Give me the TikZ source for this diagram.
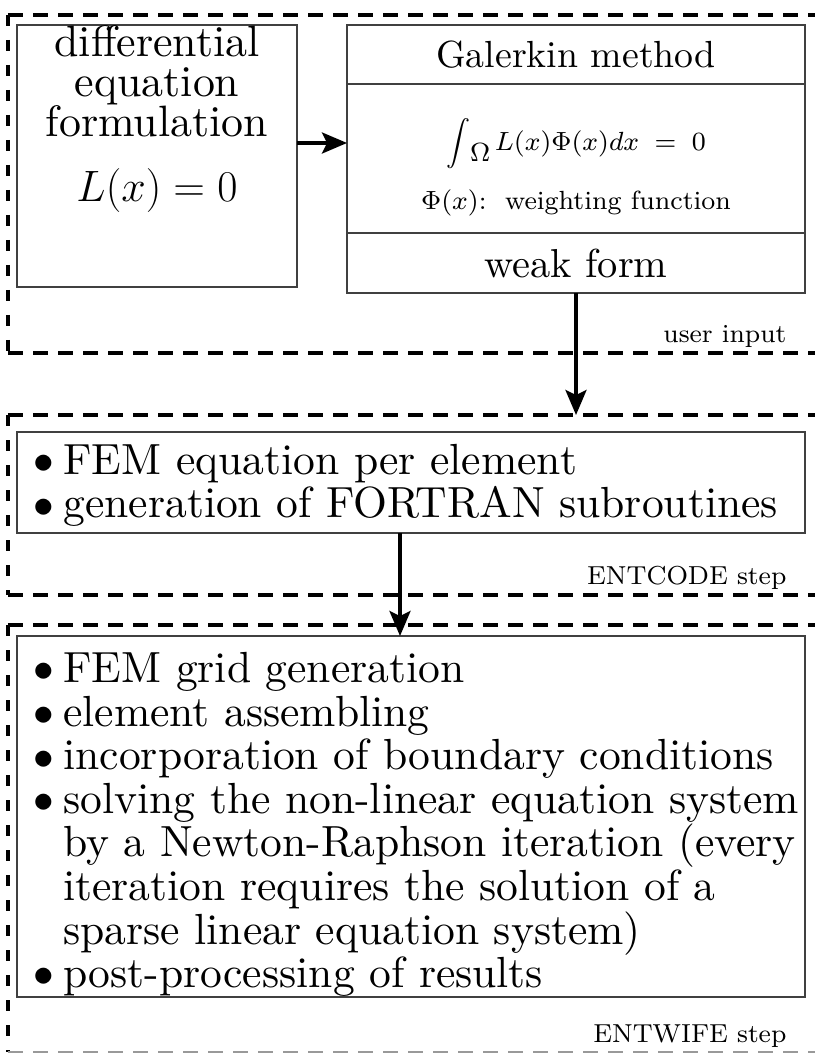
\RequirePackage{fix-cm}
\documentclass[tikz,border=0pt]{standalone}
\usepackage{amsmath}
\usepackage{graphicx}
\usepackage{fontspec}
\setmainfont{lmroman10-regular.otf}[ItalicFont=lmroman10-italic.otf, BoldFont=lmroman10-bold.otf]
\newfontfamily\smallrm{lmroman8-regular.otf}
\usepackage{tikz}
\usetikzlibrary{positioning}
\usetikzlibrary{arrows.meta}

\newcommand{\itm}{\makebox[0.68em][l]{\raisebox{0.4pt}{\fontsize{23.5}{23.5}\selectfont$\bullet$}}}
\newcommand{\weakint}{\mathop{\vcenter{\hbox{\scalebox{0.86}{$\displaystyle\int$}}}}\nolimits}

\tikzset{
  box/.style={draw=black!75, line width=0.6pt, inner sep=0pt, outer sep=0pt},
  frame/.style={inner sep=0pt, outer sep=0pt},
  hdash/.style={line width=2pt, dash pattern=on 0.3cm off 0.2cm},
  vdash/.style={line width=2pt, dash pattern=on 0.22cm off 0.28cm},
  arr/.style={line width=2pt, -{Stealth[length=0.5cm,width=0.42cm,inset=0.1cm]}},
  big/.style={font=\fontsize{24.8}{24.8}\selectfont},
  small/.style={font=\smallrm\fontsize{8}{10}\selectfont, inner sep=0pt, scale=1.85, transform shape},
}

\begin{document}
\begin{tikzpicture}
        \useasboundingbox (0,0) rectangle (16.28,-21.14);

        % dashed frames of the three steps
        \node (userframe)[frame, minimum width=16.54cm, minimum height=6.76cm] at (8.43,-3.68) {};
        \node (codeframe)[frame, minimum width=16.54cm, minimum height=3.60cm] at (8.43,-10.10) {};
        \node (wifeframe)[frame, minimum width=16.54cm, minimum height=8.54cm] at (8.43,-16.77) {};
        \foreach \f in {userframe, codeframe, wifeframe} {
            \draw [hdash] (\f.north west) -- (\f.north east);
            \draw [vdash] (\f.north west) -- (\f.south west);
        }
        \draw [hdash] (userframe.south west) -- (userframe.south east);
        \draw [hdash] (codeframe.south west) -- (codeframe.south east);
        \draw [hdash, black!40, line width=1.4pt] (wifeframe.south west) -- (wifeframe.south east);

        \node (userlbl)[small, anchor=base east] at (15.74,-6.86) {user input};
        \node (codelbl)[small, anchor=base east] at (15.74,-11.68) {ENTCODE step};
        \node (wifelbl)[small, anchor=base east] at (15.74,-20.84) {ENTWIFE step};

        % user input
        \node (diffeq)[box, minimum width=5.6cm, minimum height=5.24cm] at (3.14,-3.12) {};
        \node (diffeqtxt)[align=center, font=\fontsize{25}{22.8}\selectfont] at (3.14,-2.38)
              {differential\\equation\\formulation\\[0.5cm]$L(x)=0$};

        \node (galtop)[box, minimum width=9.16cm, minimum height=1.18cm, font=\fontsize{21.5}{24}\selectfont]
              at (11.52,-1.09) {Galerkin method};
        \node (galmid)[box, minimum width=9.16cm, minimum height=2.98cm, below=0pt of galtop] {};
        \node (galbot)[box, minimum width=9.16cm, minimum height=1.2cm, below=0pt of galmid,
              font=\fontsize{23}{26}\selectfont] {weak form};
        \node (galint)[font=\fontsize{8}{10}\selectfont, scale=1.87, transform shape, inner sep=0pt]
              at ([yshift=0.3cm]galmid.center)
              {$\weakint\!\raisebox{-0.45em}{$\Omega$}\,L(x)\Phi(x)dx \;=\; 0$};
        \node (galphi)[font=\smallrm\fontsize{8}{10}\selectfont, scale=1.87, transform shape, inner sep=0pt]
              at ([yshift=-0.88cm]galmid.center) {$\Phi(x)$:~~weighting function};

        % ENTCODE
        \node (entcode)[box, minimum width=15.76cm, minimum height=2.02cm] at (8.22,-9.65) {};
        \node (entcodetxt)[big, align=left, anchor=west, inner sep=0pt] at ([xshift=0.33cm, yshift=-0.06cm]entcode.west)
              {\itm FEM equation per element\\\itm generation of FORTRAN subroutines};

        % ENTWIFE
        \node (entwife)[box, minimum width=15.76cm, minimum height=7.22cm] at (8.22,-16.33) {};
        \node (entwifetxt)[big, align=left, anchor=west, inner sep=0pt] at ([xshift=0.33cm, yshift=-0.16cm]entwife.west)
              {\itm FEM grid generation\\
              \itm element assembling\\
              \itm incorporation of boundary conditions\\
              \itm solving the non-linear equation system\\
              \hspace*{0.68em}by a Newton-Raphson iteration (every\\
              \hspace*{0.68em}iteration requires the solution of a\\
              \hspace*{0.68em}sparse linear equation system)\\
              \itm post-processing of results};

        \draw [arr] ([yshift=0.26cm]diffeq.east) -- ([yshift=0.31cm]galmid.west);
        \draw [arr] (galbot.south) -- (galbot.south |- codeframe.north);
        \draw [arr] ([xshift=-0.22cm]entcode.south) -- ([xshift=-0.22cm]entwife.north);
    \end{tikzpicture}
\end{document}
